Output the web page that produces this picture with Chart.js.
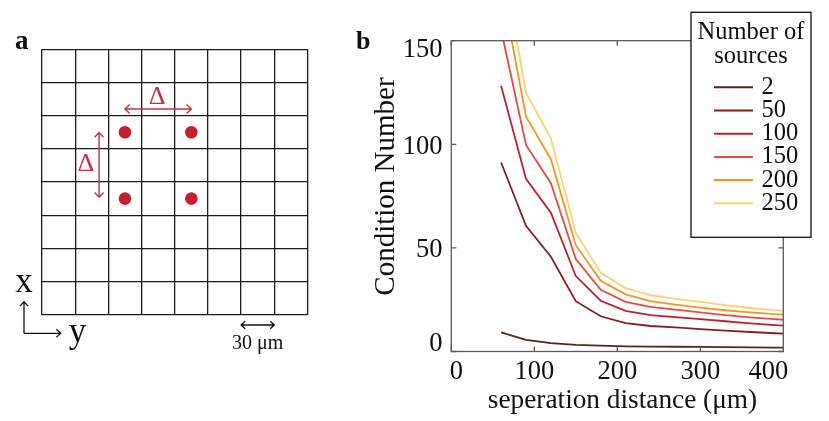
<!DOCTYPE html>
<html>
<head>
<meta charset="utf-8">
<script src="https://cdn.jsdelivr.net/npm/chart.js@4.4.1/dist/chart.umd.min.js"></script>
<style>
html, body { margin: 0; padding: 0; background: #fff; }
#wrap { position: relative; width: 829px; height: 421px; }
canvas { position: absolute; left: 0; top: 0; }
</style>
</head>
<body>
<div id="wrap">
  <canvas id="gridChart" width="360" height="421"></canvas>
  <canvas id="lineChart" width="829" height="421"></canvas>
</div>
<script>
// panel a: electrode grid and source positions (grid units)
const gridSize = 8
const sourceX = [2.5, 4.5, 2.5, 4.5]
const sourceY = [5.5, 5.5, 3.5, 3.5]

// panel b: condition number vs separation distance
const distances = [60, 90, 120, 150, 180, 210, 240, 270, 300, 330, 360, 390, 420]
const sourceCounts = ['2', '50', '100', '150', '200', '250']
const cond2   = [9.2, 5.6, 4.0, 3.2, 2.8, 2.5, 2.4, 2.3, 2.2, 2.1, 2.0, 1.9, 1.8]
const cond50  = [91.2, 60.7, 45.7, 24.3, 17.0, 13.7, 12.3, 11.6, 10.8, 10.1, 9.4, 8.8, 8.4]
const cond100 = [128.3, 83.3, 67.0, 36.4, 24.5, 19.6, 17.6, 16.6, 15.6, 14.6, 13.6, 12.7, 12.0]
const cond150 = [155.2, 99.7, 81.2, 44.6, 29.8, 24.0, 21.5, 20.2, 18.9, 17.6, 16.5, 15.6, 14.8]
const cond200 = [177.3, 113.3, 92.8, 51.3, 34.1, 27.6, 24.3, 22.6, 21.2, 19.9, 18.9, 18.0, 17.4]
const cond250 = [192.0, 124.9, 102.9, 57.2, 38.0, 30.6, 27.2, 25.4, 24.0, 22.4, 21.0, 20.0, 19.4]
const xTickValues = [0, 100, 200, 300, 400]
const yTickValues = [0, 50, 100, 150]

const serif = "'Liberation Serif', 'Times New Roman', serif"
const red = '#c8323c'

function arrowHead(ctx, x, y, angle, len, spread) {
    ctx.moveTo(x + len * Math.cos(angle + spread), y + len * Math.sin(angle + spread))
    ctx.lineTo(x, y)
    ctx.lineTo(x + len * Math.cos(angle - spread), y + len * Math.sin(angle - spread))
}

function drawArrow(ctx, x1, y1, x2, y2, both, len) {
    const a = Math.atan2(y1 - y2, x1 - x2)
    ctx.beginPath()
    ctx.moveTo(x1, y1)
    ctx.lineTo(x2, y2)
    arrowHead(ctx, x2, y2, a, len, 0.75)
    if (both) arrowHead(ctx, x1, y1, a + Math.PI, len, 0.75)
    ctx.stroke()
}

const gridNotes = {
    id: 'gridNotes',
    afterDraw(chart) {
        const { ctx, scales: { x, y } } = chart
        const px = v => x.getPixelForValue(v)
        const py = v => y.getPixelForValue(v)
        ctx.save()
        ctx.strokeStyle = red
        ctx.lineWidth = 1.4
        drawArrow(ctx, px(2.5), py(6.2), px(4.5), py(6.2), true, 6.5)
        drawArrow(ctx, px(1.72), py(5.49), px(1.72), py(3.54), true, 6.5)
        ctx.fillStyle = red
        ctx.font = '26px ' + serif
        ctx.textAlign = 'center'
        ctx.fillText('Δ', px(3.47), 103.5)
        ctx.fillText('Δ', px(1.32), 170.5)

        ctx.fillStyle = '#111'
        ctx.strokeStyle = '#111'
        ctx.font = 'bold 27px ' + serif
        ctx.textAlign = 'left'
        ctx.fillText('a', 15, 48.5)

        // orientation arrows
        ctx.lineWidth = 1.3
        drawArrow(ctx, 24, 333.3, 24, 301.7, false, 6)
        drawArrow(ctx, 24, 333.3, 60.7, 333.3, false, 6)
        ctx.font = '35px ' + serif
        ctx.textAlign = 'center'
        ctx.fillText('x', 24, 291.5)
        ctx.fillText('y', 77.5, 341.8)

        // scale bar, one grid cell
        drawArrow(ctx, px(6), 325, px(7), 325, true, 5.5)
        ctx.font = '20px ' + serif
        ctx.fillText('30 μm', px(6.5), 348.5)
        ctx.restore()
    }
}

new Chart(document.getElementById('gridChart'), {
    type: 'scatter',
    data: {
        datasets: [{
            data: sourceX.map((v, i) => ({ x: v, y: sourceY[i] })),
            pointRadius: 6.3,
            backgroundColor: '#c41e30',
            borderWidth: 0,
        }],
    },
    options: {
        responsive: false,
        animation: false,
        events: [],
        layout: { padding: { left: 42, top: 49.3, right: 52.5, bottom: 106.3 } },
        plugins: { legend: { display: false }, tooltip: { enabled: false } },
        scales: {
            x: {
                min: 0, max: gridSize,
                ticks: { display: false, stepSize: 1 },
                grid: { color: '#1c1c1c', lineWidth: 1.3, drawTicks: false },
                border: { display: false },
                afterFit: s => { s.height = 0 },
            },
            y: {
                min: 0, max: gridSize,
                ticks: { display: false, stepSize: 1 },
                grid: { color: '#1c1c1c', lineWidth: 1.3, drawTicks: false },
                border: { display: false },
                afterFit: s => { s.width = 0 },
            },
        },
    },
    plugins: [gridNotes],
})

// nudges for the end labels, which sit inside the axis ends in the figure
const xLabelShift = { 0: 5, 400: -15 }
const yLabelShift = { 0: -10, 150: 7 }

const frame = {
    id: 'frame',
    afterDatasetsDraw(chart) {
        const { ctx, chartArea: a, scales: { x, y } } = chart
        ctx.save()
        ctx.strokeStyle = '#5a5a5a'
        ctx.lineWidth = 1.3
        ctx.strokeRect(a.left, a.top, a.right - a.left, a.bottom - a.top)
        ctx.beginPath()
        x.ticks.forEach(t => {
            const p = x.getPixelForValue(t.value)
            ctx.moveTo(p, a.bottom); ctx.lineTo(p, a.bottom - 5)
            ctx.moveTo(p, a.top); ctx.lineTo(p, a.top + 5)
        })
        y.ticks.forEach(t => {
            const p = y.getPixelForValue(t.value)
            ctx.moveTo(a.left, p); ctx.lineTo(a.left + 5, p)
            ctx.moveTo(a.right, p); ctx.lineTo(a.right - 5, p)
        })
        ctx.stroke()

        // tick labels
        ctx.fillStyle = '#111'
        ctx.font = '26.5px ' + serif
        ctx.textAlign = 'center'
        x.ticks.forEach(t => {
            ctx.fillText(String(t.value), x.getPixelForValue(t.value) + (xLabelShift[t.value] || 0), 379.3)
        })
        ctx.textAlign = 'right'
        y.ticks.forEach(t => {
            ctx.fillText(String(t.value), 442.5, y.getPixelForValue(t.value) + 9.3 + (yLabelShift[t.value] || 0))
        })

        // axis titles
        ctx.font = '27.3px ' + serif
        ctx.textAlign = 'center'
        ctx.fillText('seperation distance (μm)', 622.5, 408)
        ctx.save()
        ctx.translate(393.5, 186.5)
        ctx.rotate(-Math.PI / 2)
        ctx.font = '29px ' + serif
        ctx.fillText('Condition Number', 0, 0)
        ctx.restore()

        ctx.font = 'bold 26px ' + serif
        ctx.textAlign = 'left'
        ctx.fillText('b', 356, 48.5)
        ctx.restore()
    },
}

const boxLegend = {
    id: 'boxLegend',
    afterDraw(chart) {
        const ctx = chart.ctx
        ctx.save()
        ctx.fillStyle = '#fff'
        ctx.fillRect(691, 12.3, 120, 225)
        ctx.strokeStyle = '#111'
        ctx.lineWidth = 1.3
        ctx.strokeRect(691, 12.3, 120, 225)
        ctx.fillStyle = '#111'
        ctx.font = '24.5px ' + serif
        ctx.textAlign = 'center'
        ctx.fillText('Number of', 751, 39)
        ctx.fillText('sources', 751, 63.3)
        ctx.textAlign = 'left'
        chart.data.datasets.forEach((ds, i) => {
            const ly = 87.3 + i * 23.2
            ctx.strokeStyle = ds.borderColor
            ctx.lineWidth = 2
            ctx.beginPath()
            ctx.moveTo(714, ly)
            ctx.lineTo(753, ly)
            ctx.stroke()
            ctx.fillText(ds.label, 761.5, ly + 6.5)
        })
        ctx.restore()
    },
}

const seriesValues = [cond2, cond50, cond100, cond150, cond200, cond250]
const seriesColors = ['#55261e', '#862024', '#c01f31', '#ea4a3f', '#f79420', '#fcd272']

new Chart(document.getElementById('lineChart'), {
    type: 'line',
    data: {
        datasets: seriesValues.map((vals, i) => ({
            label: sourceCounts[i],
            data: vals.map((v, j) => ({ x: distances[j], y: v })),
            borderColor: seriesColors[i],
            borderWidth: 1.8,
            pointRadius: 0,
            tension: 0,
            fill: false,
        })),
    },
    options: {
        responsive: false,
        animation: false,
        events: [],
        layout: { padding: { left: 363, top: 40.7, right: 45.7, bottom: 1 } },
        plugins: { legend: { display: false }, tooltip: { enabled: false } },
        scales: {
            x: {
                type: 'linear',
                min: 0, max: 400,
                afterBuildTicks: s => { s.ticks = xTickValues.map(v => ({ value: v })) },
                ticks: { display: false },
                grid: { display: false, drawTicks: false },
                border: { display: false },
                afterFit: s => { s.height = 68.5 },
            },
            y: {
                min: 0, max: 150,
                afterBuildTicks: s => { s.ticks = yTickValues.map(v => ({ value: v })) },
                ticks: { display: false },
                grid: { display: false, drawTicks: false },
                border: { display: false },
                afterFit: s => { s.width = 88.3 },
            },
        },
    },
    plugins: [frame, boxLegend],
})
</script>
</body>
</html>
